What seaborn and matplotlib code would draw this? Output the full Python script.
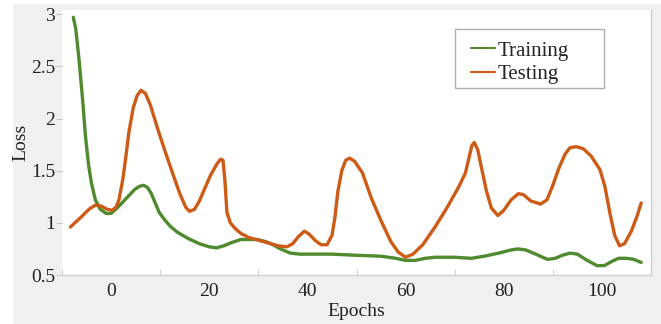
import numpy as np
import matplotlib
matplotlib.use('Agg')
import matplotlib.pyplot as plt
import matplotlib.patches as mpatches
import pandas as pd
import seaborn as sns

# values
train_epochs = [-7.7, -7.2, -6.5, -5.8, -5.2, -4.6, -4.0, -3.2, -2.2, -1.0, 0.0,
                1.2, 2.4, 3.6, 4.8, 5.8, 6.6, 7.4, 8.2, 9.0, 9.8, 10.9, 12.0,
                13.5, 15.7, 18.0, 20.0, 21.5, 23.0, 24.5, 26.4, 28.0, 29.8, 31.5,
                33.0, 34.5, 36.5, 38.5, 40.0, 45.0, 49.6, 55.0, 58.0, 60.0, 62.0,
                64.0, 66.0, 70.0, 73.4, 76.0, 79.0, 81.5, 82.9, 84.5, 86.5,
                88.9, 90.5, 92.0, 93.5, 95.0, 97.0, 99.0, 100.5, 102.0, 103.4,
                105.0, 106.5, 108.0]
train_loss = [2.97, 2.86, 2.55, 2.18, 1.82, 1.56, 1.38, 1.22, 1.13, 1.09, 1.09,
              1.14, 1.20, 1.26, 1.32, 1.35, 1.36, 1.34, 1.28, 1.19, 1.10, 1.03, 0.97,
              0.91, 0.85, 0.80, 0.77, 0.76, 0.78, 0.81, 0.84, 0.84, 0.84, 0.82,
              0.79, 0.75, 0.71, 0.70, 0.70, 0.70, 0.69, 0.68, 0.66, 0.64, 0.64,
              0.66, 0.67, 0.67, 0.66, 0.68, 0.71, 0.74, 0.75, 0.74, 0.70,
              0.65, 0.66, 0.69, 0.71, 0.70, 0.64, 0.59, 0.59, 0.63, 0.66,
              0.66, 0.65, 0.62]

test_epochs = [-8.3, -6.0, -4.5, -3.2, -2.0, -0.8, 0.2, 1.0, 1.6, 2.4, 3.0, 3.6,
               4.5, 5.3, 6.1, 7.0, 8.0, 9.5, 10.9, 12.5, 14.0, 15.2, 16.0, 17.0,
               18.0, 19.0, 20.2, 21.5, 22.3, 22.8, 23.2, 23.6, 24.3, 25.2, 26.4,
               28.0, 29.5, 31.8, 34.0, 35.8, 37.0, 38.2, 39.4, 40.4, 41.6, 42.8,
               44.0, 45.0, 45.6, 46.2, 47.0, 47.8, 48.6, 49.6, 51.2, 53.0, 55.0,
               57.0, 58.5, 60.0, 61.5, 63.5, 66.0, 68.5, 71.0, 72.2, 72.8, 73.5,
               74.0, 74.7, 75.5, 76.5, 77.5, 78.8, 80.0, 81.5, 83.0, 84.0, 85.5,
               87.5, 88.8, 90.0, 91.2, 92.5, 93.5, 94.8, 96.2, 97.8, 99.6, 100.6,
               101.6, 102.6, 103.6, 104.6, 106.0, 107.2, 108.0]
test_loss = [0.96, 1.06, 1.13, 1.17, 1.16, 1.13, 1.12, 1.15, 1.22, 1.42, 1.63, 1.86,
             2.10, 2.22, 2.27, 2.24, 2.13, 1.90, 1.70, 1.48, 1.28, 1.15, 1.11, 1.13,
             1.21, 1.32, 1.45, 1.56, 1.61, 1.60, 1.40, 1.10, 1.00, 0.95, 0.90,
             0.86, 0.84, 0.81, 0.78, 0.77, 0.80, 0.87, 0.92, 0.89, 0.83, 0.79,
             0.79, 0.88, 1.05, 1.30, 1.50, 1.60, 1.62, 1.59, 1.48, 1.24, 1.02,
             0.82, 0.72, 0.67, 0.70, 0.79, 0.96, 1.15, 1.36, 1.48, 1.60, 1.74,
             1.77, 1.70, 1.52, 1.30, 1.14, 1.07, 1.12, 1.22, 1.28, 1.27, 1.21,
             1.18, 1.22, 1.36, 1.52, 1.66, 1.72, 1.73, 1.71, 1.64, 1.51, 1.35,
             1.10, 0.88, 0.78, 0.80, 0.92, 1.07, 1.19]

x_ticks = [0, 20, 40, 60, 80, 100]
y_ticks = [0.5, 1, 1.5, 2, 2.5, 3]
y_labels = ['0.5', '1', '1.5', '2', '2.5', '3']

df = pd.concat([
    pd.DataFrame({'Epochs': train_epochs, 'Loss': train_loss, 'set': 'Training'}),
    pd.DataFrame({'Epochs': test_epochs, 'Loss': test_loss, 'set': 'Testing'}),
])

sns.set_style('white')
plt.rcParams['font.family'] = ['Liberation Serif', 'DejaVu Serif']
plt.rcParams['lines.solid_joinstyle'] = 'round'
plt.rcParams['lines.solid_capstyle'] = 'round'

fig = plt.figure(figsize=(6.61, 3.24), dpi=100, facecolor='white')
fig.patches.append(mpatches.Rectangle((12 / 661, 0), 1, 1 - 3 / 324,
                                      transform=fig.transFigure,
                                      facecolor='#f0f0f0', zorder=-10))
ax = fig.add_axes([62 / 661, 49 / 324, 589 / 661, 265 / 324])
ax.set_facecolor('white')

sns.lineplot(data=df, x='Epochs', y='Loss', hue='set',
             palette={'Training': '#4f8a2f', 'Testing': '#cd5b16'},
             linewidth=2.4, sort=False, estimator=None, ax=ax)

ax.set_xlim(-9.6, 109.2)
ax.set_ylim(0.5, 3.04)
ax.set_xticks(x_ticks)
ax.set_xticklabels([str(t) for t in x_ticks])
ax.set_xticks([-10, 10, 30, 50, 70, 90, 110], minor=True)
ax.set_yticks(y_ticks)
ax.set_yticklabels(y_labels)
ax.tick_params(axis='x', which='major', length=0, labelsize=14, pad=6, labelcolor='#222222')
ax.tick_params(axis='x', which='minor', length=4, direction='in', color='#c8c8c8', bottom=True)
ax.tick_params(axis='y', which='major', length=4, direction='out', color='#c8c8c8',
               labelsize=14, pad=1, left=True, labelcolor='#222222')

for side in ['top', 'left']:
    ax.spines[side].set_visible(False)
for side in ['bottom', 'right']:
    ax.spines[side].set_color('#d0d0d0')
    ax.spines[side].set_linewidth(1.0)

ax.set_xlabel('Epochs', fontsize=14, labelpad=2, color='#222222')
ax.set_ylabel('Loss', fontsize=14, labelpad=1, color='#222222')

# legend box is wider than its contents in the reference, so draw the frame separately
ax.add_patch(mpatches.Rectangle(((455 - 62) / 589, (275 - 88) / 265), 149 / 589, 59 / 265,
                                transform=ax.transAxes, facecolor='white',
                                edgecolor='#b0b0b0', linewidth=1.0, zorder=5))
leg = ax.legend(loc='upper left', bbox_to_anchor=((471 - 62) / 589, (275 - 41) / 265),
                fontsize=15, frameon=False, handlelength=1.15,
                handletextpad=0.12, borderpad=0, labelspacing=0.2,
                borderaxespad=0, title=None)
leg.set_zorder(6)
for line in leg.get_lines():
    line.set_linewidth(1.5)

fig.savefig('out.png', dpi=100, facecolor=fig.get_facecolor())
